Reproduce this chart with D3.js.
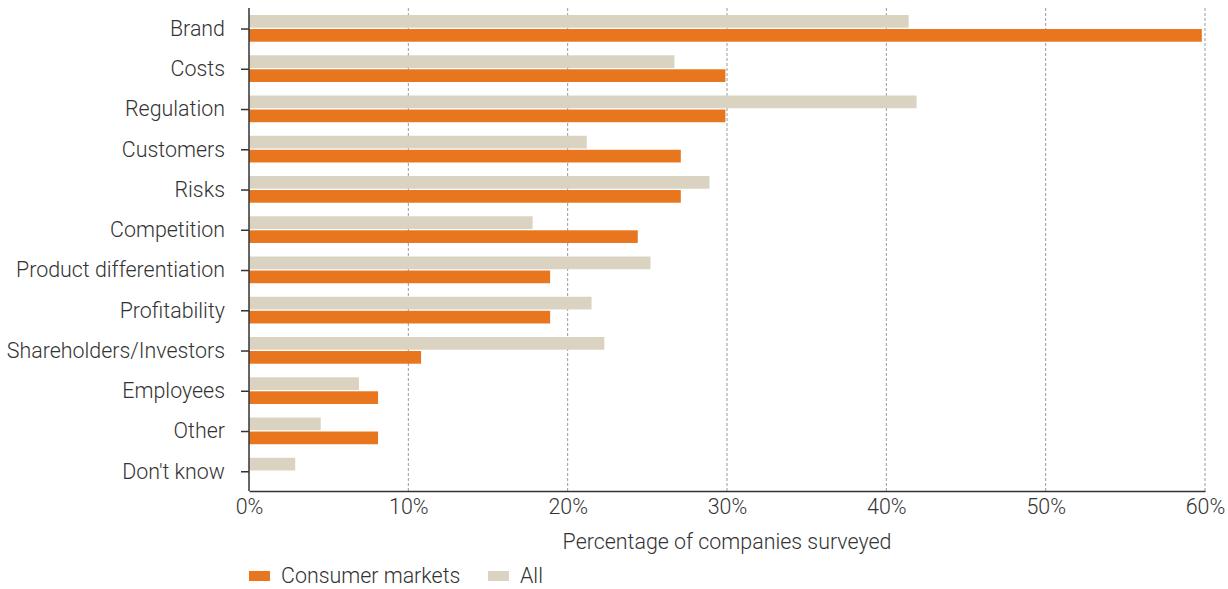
<!DOCTYPE html>
<html><head><meta charset="utf-8">
<script src="https://cdn.jsdelivr.net/npm/d3@7"></script>
<style>
html,body{margin:0;padding:0;background:#fff;}
svg text{font-family:Roboto,"Liberation Sans",Arial,sans-serif;font-weight:300;fill:#333;}
</style></head>
<body>
<svg id="c" width="1228" height="589"></svg>
<script>
const categories = ["Brand","Costs","Regulation","Customers","Risks","Competition","Product differentiation","Profitability","Shareholders/Investors","Employees","Other","Don't know"];
const consumerMarkets = [59.8,29.9,29.9,27.1,27.1,24.4,18.9,18.9,10.8,8.1,8.1,0];
const allCompanies = [41.4,26.7,41.9,21.2,28.9,17.8,25.2,21.5,22.3,6.9,4.5,2.9];
const xTicks = [0,10,20,30,40,50,60];
const seriesNames = ["Consumer markets","All"];
const colors = {"Consumer markets":"#E8761F","All":"#DAD3C1"};

const svg = d3.select("#c");
const x0 = 249, x1 = 1205, yTop = 8, yBot = 491;
const x = d3.scaleLinear().domain([0,60]).range([x0,x1]);
const y = d3.scaleBand().domain(categories).range([yTop,yBot]);
const fs = "21.4px";

// gridlines
svg.append("g").selectAll("line").data(xTicks.filter(d=>d>0)).join("line")
  .attr("x1",d=>x(d)).attr("x2",d=>x(d)).attr("y1",yTop).attr("y2",yBot)
  .attr("stroke","#9a9a9a").attr("stroke-width",1).attr("stroke-dasharray","3,2");

const bh = 12.7;
const g = svg.append("g");
categories.forEach((c,i)=>{
  const cy = y(c) + y.bandwidth()/2 + 0.9;
  if (allCompanies[i] > 0)
    g.append("rect").attr("x",x(0)).attr("y",cy-bh-1.3).attr("width",x(allCompanies[i])-x(0)).attr("height",bh).attr("fill",colors["All"]);
  if (consumerMarkets[i] > 0)
    g.append("rect").attr("x",x(0)).attr("y",cy).attr("width",x(consumerMarkets[i])-x(0)).attr("height",bh).attr("fill",colors["Consumer markets"]);
});

// y axis
const ya = svg.append("g").attr("transform",`translate(${x0},0.9)`)
  .call(d3.axisLeft(y).tickSize(8).tickPadding(16));
ya.select(".domain").attr("stroke","#333").attr("stroke-width",1.5).attr("d",`M0,${yTop-0.9}V${yBot-0.9}`);
ya.selectAll(".tick line").attr("stroke","#333").attr("stroke-width",1.5);
ya.selectAll(".tick text").style("font-size",fs).attr("dy","0.32em");

// x axis
const xa = svg.append("g").attr("transform",`translate(0,${yBot})`)
  .call(d3.axisBottom(x).tickValues(xTicks).tickSize(0).tickPadding(8).tickFormat(d=>d+"%"));
xa.select(".domain").attr("stroke","#333").attr("stroke-width",1.5);
xa.selectAll(".tick text").style("font-size",fs);

svg.append("text").attr("x",(x0+x1)/2).attr("y",549).attr("text-anchor","middle")
  .style("font-size",fs).text("Percentage of companies surveyed");

// legend
const lg = svg.append("g");
const lx = [249,488];
seriesNames.forEach((s,i)=>{
  lg.append("rect").attr("x",lx[i]).attr("y",571).attr("width",21).attr("height",10).attr("fill",colors[s]);
  lg.append("text").attr("x",lx[i]+32).attr("y",583).style("font-size",fs).text(s);
});
</script>
</body></html>
